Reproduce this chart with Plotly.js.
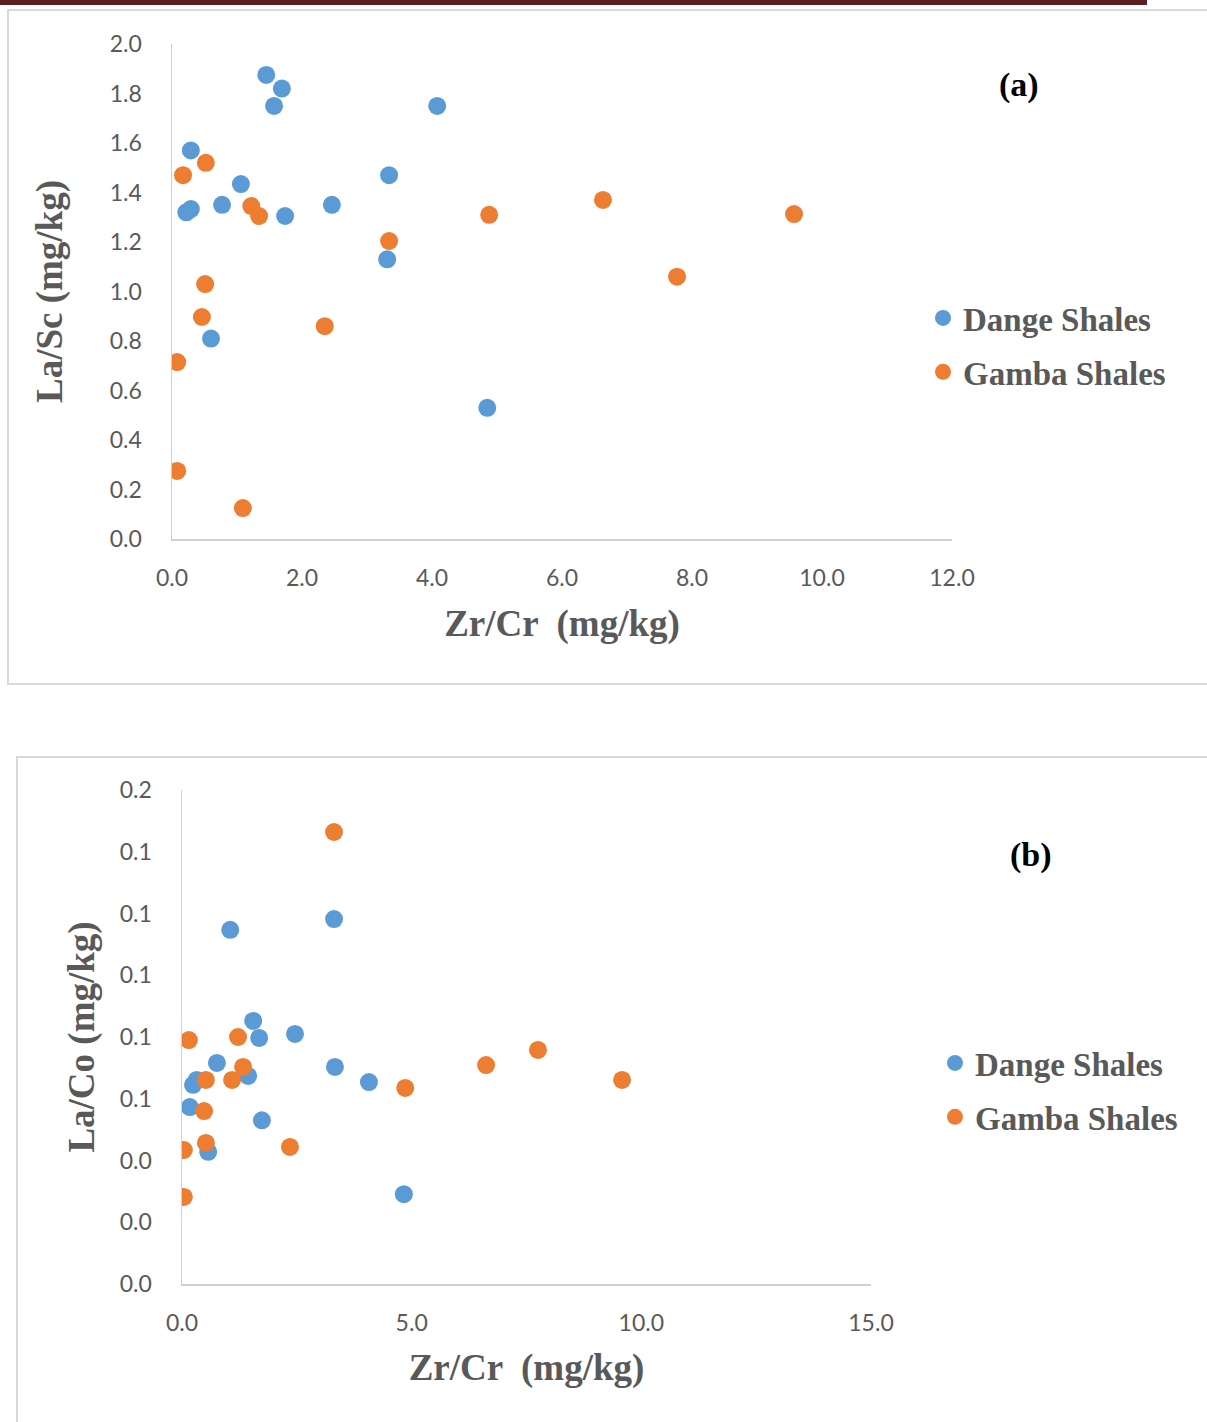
<!DOCTYPE html>
<html>
<head>
<meta charset="utf-8">
<script src="https://cdn.plot.ly/plotly-3.0.1.min.js"></script>
<style>html,body{margin:0;padding:0;background:#fff;}#chart{width:1207px;height:1422px;}</style>
</head>
<body>
<div id="chart"></div>
<script>
// Panel (a): Zr/Cr vs La/Sc
const dangeA_x = [1.45, 1.69, 1.57, 4.08, 0.29, 1.06, 0.22, 0.29, 0.77, 1.74, 2.46, 3.34, 3.31, 0.60, 4.85];
const dangeA_y = [1.875, 1.82, 1.75, 1.75, 1.57, 1.434, 1.32, 1.333, 1.35, 1.305, 1.35, 1.47, 1.13, 0.81, 0.53];
const gambaA_x = [0.17, 0.52, 1.22, 1.34, 0.51, 0.46, 0.08, 2.35, 0.08, 1.09, 3.34, 4.88, 6.63, 7.77, 9.57];
const gambaA_y = [1.47, 1.52, 1.345, 1.305, 1.03, 0.897, 0.715, 0.86, 0.275, 0.125, 1.204, 1.31, 1.37, 1.06, 1.313];

// Panel (b): Zr/Cr vs La/Co
const dangeB_x = [1.05, 3.31, 1.55, 1.68, 2.46, 0.76, 3.33, 1.44, 0.24, 0.32, 4.07, 0.17, 1.74, 0.57, 4.83];
const dangeB_y = [0.1147, 0.1182, 0.0852, 0.0797, 0.081, 0.0716, 0.0703, 0.0674, 0.0645, 0.0661, 0.0654, 0.0573, 0.053, 0.0428, 0.0291];
const gambaB_x = [3.31, 0.15, 1.22, 1.33, 0.52, 1.09, 0.48, 0.52, 0.04, 2.35, 0.04, 4.86, 6.62, 7.75, 9.58];
const gambaB_y = [0.1464, 0.079, 0.080, 0.0703, 0.0661, 0.0661, 0.056, 0.0457, 0.0434, 0.0444, 0.0282, 0.0635, 0.0709, 0.0758, 0.0661];

const seriesNames = ["Dange Shales", "Gamba Shales"];
const seriesColors = ["#5B9BD5", "#ED7D31"];

const W = 1207, H = 1422;
const px = v => v / W;
const py = v => 1 - v / H;

const mk = (x, y, i, xa, ya, lg) => ({
  type: 'scatter', mode: 'markers', x: x, y: y, name: seriesNames[i],
  xaxis: xa, yaxis: ya, legend: lg, legendgroup: lg + i,
  marker: {color: seriesColors[i], size: 18, line: {width: 0}},
  hoverinfo: 'x+y'
});

const data = [
  mk(dangeA_x, dangeA_y, 0, 'x', 'y', 'legend'),
  mk(gambaA_x, gambaA_y, 1, 'x', 'y', 'legend'),
  mk(dangeB_x, dangeB_y, 0, 'x2', 'y2', 'legend2'),
  mk(gambaB_x, gambaB_y, 1, 'x2', 'y2', 'legend2')
];

const tickFont = {family: 'Lato, Open Sans, sans-serif', size: 23, color: '#595959'};
const titleFont = {family: 'Liberation Serif, Times New Roman, serif', size: 37, color: '#595959', weight: 'bold'};
const legFont = {family: 'Liberation Serif, Times New Roman, serif', size: 33, color: '#595959', weight: 'bold'};

const axisBase = {
  showgrid: false, zeroline: false, showline: true, linecolor: '#d0d0d0', linewidth: 1.5,
  ticks: '', tickfont: tickFont, tickformat: '.1f', fixedrange: true
};

const layout = {
  width: W, height: H,
  margin: {l: 0, r: 0, t: 0, b: 0},
  paper_bgcolor: '#fff', plot_bgcolor: '#fff',
  showlegend: true,
  xaxis: Object.assign({}, axisBase, {
    domain: [px(172), px(952)], range: [0, 12], dtick: 2, anchor: 'y',
    ticklabelstandoff: 18,
    title: {text: 'Zr/Cr  (mg/kg)', font: titleFont, standoff: 20}
  }),
  yaxis: Object.assign({}, axisBase, {
    domain: [py(539), py(44)], range: [0, 2], dtick: 0.2, anchor: 'x',
    ticklabelstandoff: 24,
    title: {text: 'La/Sc (mg/kg)', font: titleFont, standoff: 36}
  }),
  xaxis2: Object.assign({}, axisBase, {
    domain: [px(182), px(871)], range: [0, 15], dtick: 5, anchor: 'y2',
    ticklabelstandoff: 18,
    title: {text: 'Zr/Cr  (mg/kg)', font: titleFont, standoff: 19}
  }),
  yaxis2: Object.assign({}, axisBase, {
    domain: [py(1284), py(790)], range: [0, 0.16], dtick: 0.02, anchor: 'x2',
    ticklabelstandoff: 24,
    title: {text: 'La/Co (mg/kg)', font: titleFont, standoff: 14}
  }),
  legend: {
    x: px(923), y: py(345), xanchor: 'left', yanchor: 'middle',
    font: legFont, bgcolor: 'rgba(0,0,0,0)', itemclick: false, itemdoubleclick: false,
    tracegroupgap: 8, itemwidth: 30
  },
  legend2: {
    x: px(935), y: py(1090), xanchor: 'left', yanchor: 'middle',
    font: legFont, bgcolor: 'rgba(0,0,0,0)', itemclick: false, itemdoubleclick: false,
    tracegroupgap: 8, itemwidth: 30
  },
  annotations: [
    {text: '(a)', xref: 'paper', yref: 'paper', x: px(1019), y: py(85), xanchor: 'center', yanchor: 'middle', showarrow: false,
     font: {family: 'Liberation Serif, serif', size: 34, color: '#000', weight: 'bold'}},
    {text: '(b)', xref: 'paper', yref: 'paper', x: px(1031), y: py(855), xanchor: 'center', yanchor: 'middle', showarrow: false,
     font: {family: 'Liberation Serif, serif', size: 34, color: '#000', weight: 'bold'}}
  ],
  shapes: [
    {type: 'rect', xref: 'paper', yref: 'paper', x0: 0, x1: px(1147), y0: py(5), y1: 1,
     fillcolor: '#5C1F21', line: {width: 0}},
    {type: 'rect', xref: 'paper', yref: 'paper', x0: px(8), x1: px(1215), y0: py(684), y1: py(10),
     fillcolor: 'rgba(0,0,0,0)', line: {color: '#d9d9d9', width: 2}},
    {type: 'rect', xref: 'paper', yref: 'paper', x0: px(17), x1: px(1215), y0: py(1430), y1: py(757),
     fillcolor: 'rgba(0,0,0,0)', line: {color: '#d9d9d9', width: 2}}
  ]
};

Plotly.newPlot('chart', data, layout, {displayModeBar: false, staticPlot: true});
</script>
</body>
</html>
